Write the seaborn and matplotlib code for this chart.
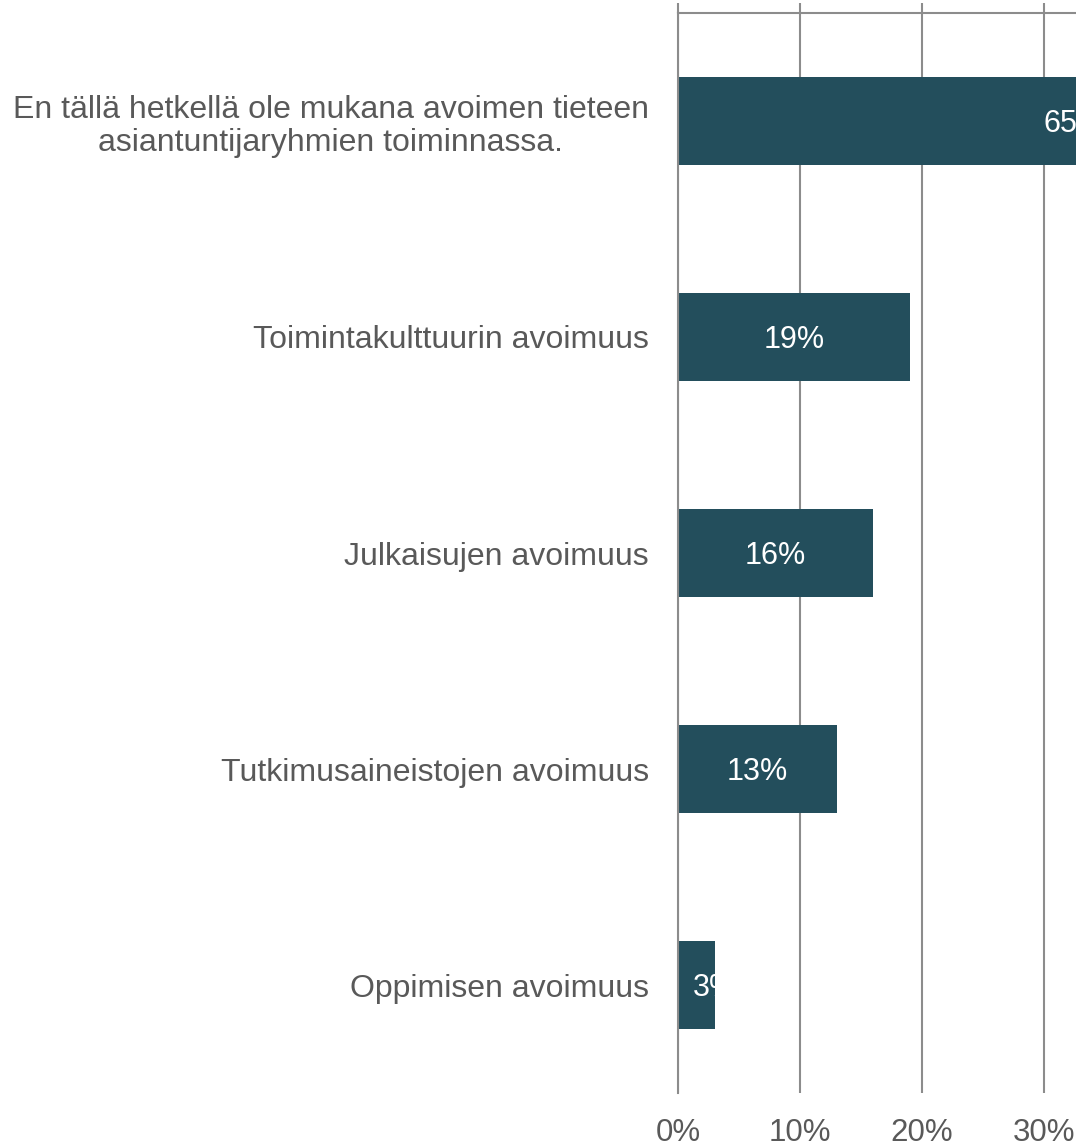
import matplotlib
matplotlib.use("Agg")
import matplotlib.pyplot as plt
import seaborn as sns
import pandas as pd

categories = [
    "En tällä hetkellä ole mukana avoimen tieteen\nasiantuntijaryhmien toiminnassa.",
    "Toimintakulttuurin avoimuus",
    "Julkaisujen avoimuus",
    "Tutkimusaineistojen avoimuus",
    "Oppimisen avoimuus",
]
values = [65, 19, 16, 13, 3]
xticks = [0, 10, 20, 30]

bar_color = "#234E5C"
text_color = "#595959"
line_color = "#8C8C8C"

df = pd.DataFrame({"kategoria": categories, "osuus": values})

sns.set_style("white")
plt.rcParams["font.family"] = ["Liberation Sans", "DejaVu Sans"]

fig = plt.figure(figsize=(10.76, 11.47), dpi=100)
ax = fig.add_axes([678 / 1076, 54 / 1147, 398 / 1076, 1080 / 1147])

sns.barplot(data=df, x="osuus", y="kategoria", orient="h", color=bar_color,
            width=0.41, saturation=1, ax=ax, linewidth=0)

ax.set_xlim(0, 32.62)
ax.set_ylim(len(categories) - 0.5, -0.5)
ax.set_xlabel("")
ax.set_ylabel("")

# gridlines and spines
ax.set_axisbelow(True)
ax.grid(axis="x", color=line_color, linewidth=1.5)
ax.grid(axis="y", visible=False)
for side in ["right", "bottom"]:
    ax.spines[side].set_visible(False)
for side in ["left", "top"]:
    ax.spines[side].set_color(line_color)
    ax.spines[side].set_linewidth(1.5)

ax.set_xticks(xticks, [f"{t}%" for t in xticks])
ax.tick_params(axis="x", which="both", bottom=False, top=True, labeltop=False,
               direction="out", length=7.2, width=1.5, color=line_color,
               labelsize=22.5, labelcolor=text_color, pad=11)

ax.set_yticks(range(len(categories)), categories)
ax.set_yticks([i - 0.5 for i in range(len(categories) + 1)], minor=True)
ax.tick_params(axis="y", which="major", length=0, pad=21,
               labelsize=23, labelcolor=text_color)
ax.tick_params(axis="y", which="minor", length=7.2, width=1.5, color=line_color,
               direction="out")
for lbl in ax.get_yticklabels():
    lbl.set_multialignment("center")
    lbl.set_linespacing(1.15)

# value labels inside bars, clipped to the bar
for patch, v in zip(ax.patches, values):
    yc = patch.get_y() + patch.get_height() / 2
    if v >= 5:
        t = ax.text(v / 2, yc, f"{v}%", ha="center", va="center_baseline",
                    color="white", fontsize=22)
    else:
        t = ax.text(1.2, yc, f"{v}%", ha="left", va="center_baseline",
                    color="white", fontsize=22)
    t.set_clip_path(patch)

fig.savefig("out.png", dpi=100)
